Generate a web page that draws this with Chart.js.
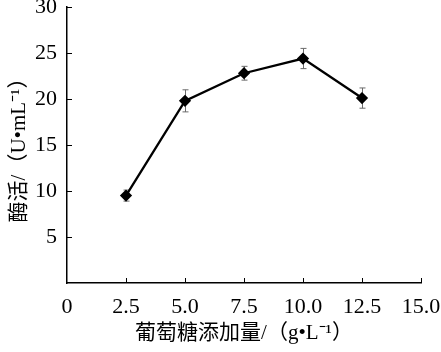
<!DOCTYPE html>
<html lang="en">
<head>
  <meta charset="UTF-8">
  <title>Glucose vs enzyme activity</title>
  <script src="https://cdn.jsdelivr.net/npm/chart.js@4/dist/chart.umd.min.js"></script>
  <style>
    body { margin: 0; background: #fff; }
  </style>
</head>
<body>
  <canvas id="chart" width="441" height="352"></canvas>
  <script>
    // values
    const glucose = [2.5, 5.0, 7.5, 10.0, 12.5];
    const activity = [9.5, 19.8, 22.8, 24.4, 20.1];
    const errors = [0.6, 1.2, 0.75, 1.1, 1.1];

    const xTitle = '葡萄糖添加量/（g•L⁻¹）';
    const yTitle = '酶活/（U•mL⁻¹）';

    const serif = "'Liberation Serif', 'Times New Roman', 'Noto Sans CJK SC', serif";

    // error bars drawn under the line
    const errorBars = {
      id: 'errorBars',
      beforeDatasetsDraw(chart) {
        const { ctx, scales: { x, y } } = chart;
        ctx.save();
        ctx.strokeStyle = '#6a6a6a';
        ctx.lineWidth = 1;
        glucose.forEach((g, i) => {
          const px = Math.round(x.getPixelForValue(g)) + 0.5;
          const top = y.getPixelForValue(activity[i] + errors[i]);
          const bot = y.getPixelForValue(activity[i] - errors[i]);
          ctx.beginPath();
          ctx.moveTo(px, top); ctx.lineTo(px, bot);
          ctx.moveTo(px - 3, top); ctx.lineTo(px + 3, top);
          ctx.moveTo(px - 3, bot); ctx.lineTo(px + 3, bot);
          ctx.stroke();
        });
        ctx.restore();
      },
      // inward tick marks
      afterDraw(chart) {
        const { ctx, scales: { x, y } } = chart;
        ctx.save();
        ctx.strokeStyle = '#000';
        ctx.lineWidth = 1;
        ctx.beginPath();
        x.ticks.forEach(t => {
          if (t.value === 0) return;
          const px = Math.round(x.getPixelForValue(t.value)) + 0.5;
          ctx.moveTo(px, y.bottom); ctx.lineTo(px, y.bottom - 5);
        });
        y.ticks.forEach(t => {
          if (t.value === 0) return;
          const py = Math.round(y.getPixelForValue(t.value)) + 0.5;
          ctx.moveTo(x.left, py); ctx.lineTo(x.left + 5, py);
        });
        ctx.stroke();
        ctx.restore();
      }
    };

    new Chart(document.getElementById('chart'), {
      type: 'line',
      data: {
        datasets: [{
          data: glucose.map((g, i) => ({ x: g, y: activity[i] })),
          borderColor: '#000',
          backgroundColor: '#000',
          borderWidth: 2.3,
          pointStyle: 'rectRot',
          pointRadius: 4.5,
          tension: 0
        }]
      },
      options: {
        responsive: false,
        animation: false,
        layout: { padding: { left: 0, right: 20, top: 7, bottom: 0 } },
        plugins: { legend: { display: false }, tooltip: { enabled: false } },
        scales: {
          x: {
            type: 'linear',
            min: 0, max: 15,
            grid: { display: false, drawTicks: false },
            border: { color: '#000', width: 1.5 },
            ticks: {
              stepSize: 2.5,
              padding: 11,
              color: '#000',
              font: { family: serif, size: 22 },
              callback: v => v === 0 ? '0' : v.toFixed(1)
            },
            title: {
              display: true,
              text: xTitle,
              color: '#000',
              font: { family: serif, size: 21 },
              padding: { top: 2, bottom: 6 }
            },
            afterFit: s => { s.height = 69; s.paddingRight = 0; }
          },
          y: {
            min: 0, max: 30,
            grid: { display: false, drawTicks: false },
            border: { color: '#000', width: 1.5 },
            ticks: {
              stepSize: 5,
              padding: 10,
              color: '#000',
              font: { family: serif, size: 22 },
              callback: v => v === 0 ? '' : String(v)
            },
            title: {
              display: true,
              text: yTitle,
              color: '#000',
              font: { family: serif, size: 21 },
              padding: { top: 7, bottom: 0 }
            },
            afterFit: s => { s.width = 67; s.paddingTop = 0; }
          }
        }
      },
      plugins: [errorBars]
    });
  </script>
</body>
</html>
